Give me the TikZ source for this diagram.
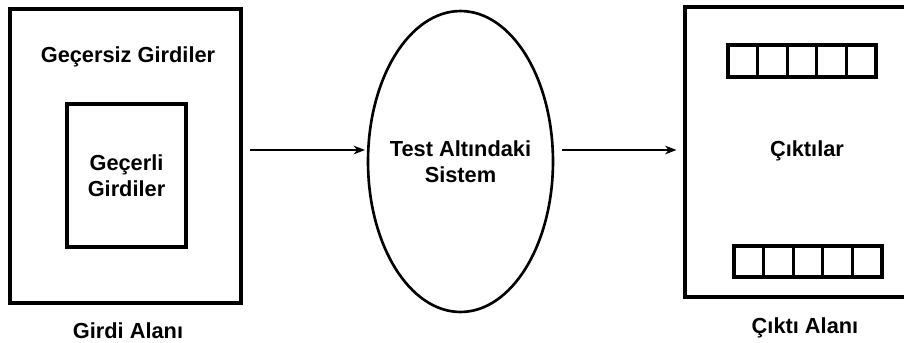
\documentclass[tikz,border=0pt]{standalone}
\usepackage{fontspec}
\setmainfont{Liberation Sans}
\usepackage{tikz}
\usetikzlibrary{arrows.meta,positioning,shapes.geometric}

\begin{document}
\begin{tikzpicture}[x=0.02cm,y=-0.02cm,font=\fontsize{12.4}{14.8}\selectfont\bfseries]
    \tikzstyle{area}=[draw,line width=1.8pt,inner sep=0pt]
    \tikzstyle{cell}=[draw,line width=1.8pt,inner sep=0pt,minimum width=0.592cm]
    \tikzstyle{flow}=[-{Stealth[length=6.5pt,width=5pt]},line width=0.6pt]
    \useasboundingbox (0,0) rectangle (904,342);
    \clip (0,0) rectangle (904,342);
    % input side
    \node[area,minimum width=4.62cm,minimum height=5.88cm] (girdi) at (125.5,156) {};
    \node[area,minimum width=2.38cm,minimum height=2.86cm,align=center] (gecerli) at (126.5,175.5) {Geçerli\\Girdiler};
    \node (gecersiz) at (128,57) {Geçersiz Girdiler};
    \node (girdilbl) at (128,331) {Girdi Alanı};
    % system under test
    \node[area,ellipse,line width=1.5pt,minimum width=3.70cm,minimum height=6.02cm] (sut) at (460.5,161.5) {};
    \node[align=center] (sutlbl) at (sut.center) {Test Altındaki\\Sistem};
    % output side
    \node[area,minimum width=4.46cm,minimum height=5.80cm] (cikti) at (796.5,152) {};
    \node (ciktilar) at (807,151) {Çıktılar};
    \node (ciktilbl) at (805,328) {Çıktı Alanı};
    \foreach \i in {0,...,4} {
      \node[cell,minimum height=0.64cm] (top\i) at (728+29.6*\i+14.8,61) {};
      \node[cell,minimum height=0.62cm] (bot\i) at (734+29.6*\i+14.8,261.5) {};
    }
    \coordinate (flowy) at (0,150);
    \draw[flow,shorten <=4pt,shorten >=1pt] (girdi.east |- flowy) -- (sut.west |- flowy);
    \draw[flow,shorten <=4.5pt,shorten >=4pt] (sut.east |- flowy) -- (cikti.west |- flowy);
\end{tikzpicture}
\end{document}
